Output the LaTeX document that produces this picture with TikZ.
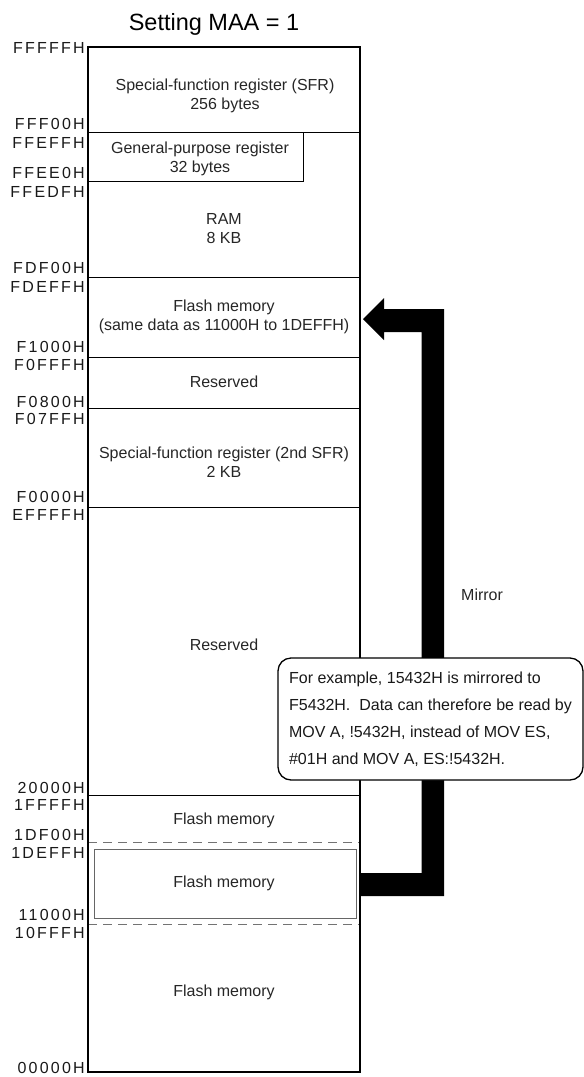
\documentclass[tikz,border=0pt]{standalone}
\usepackage{fontspec}
\setmainfont{Liberation Sans}
\newfontfamily\addrfont[LetterSpace=14]{Liberation Sans}
\tikzset{
  addr/.style={anchor=east, inner sep=0pt, font=\addrfont\fontsize{16}{16}\selectfont, text=black!90},
  regiontext/.style={align=center, inner sep=0pt, font=\fontsize{16}{19}\selectfont, text=black!85},
  outerline/.style={line width=1.4pt},
  divline/.style={line width=0.9pt},
  dashline/.style={line width=0.9pt, draw=black!55, dash pattern=on 9pt off 6pt},
  innerbox/.style={line width=0.9pt, draw=black!60},
  callout/.style={draw, line width=1.3pt, fill=white, rounded corners=13pt,
    minimum width=305pt, minimum height=122pt, inner xsep=0pt,
    align=left, font=\fontsize{16}{27}\selectfont, text=black!90}
}
\begin{document}
\begin{tikzpicture}[x=1pt,y=-1pt]
\useasboundingbox (0,0) rectangle (584,1077);
% title
\node[font=\fontsize{23.5}{23.5}\selectfont] (title) at (214,24) {Setting MAA = 1};
% outer box corners
\coordinate (TL) at (88,47);
\coordinate (BR) at (360,1072);
% dividing lines
\draw[divline] (88,132) -- (360,132);
\draw[divline] (303,132) -- (303,181) -- (88,181);
\draw[divline] (88,277) -- (360,277);
\draw[divline] (88,357) -- (360,357);
\draw[divline] (88,408) -- (360,408);
\draw[divline] (88,507) -- (360,507);
\draw[divline] (88,795) -- (360,795);
\draw[dashline] (88,842) -- (360,842);
\draw[dashline] (88,924) -- (360,924);
\node[innerbox, draw, minimum width=262pt, minimum height=69pt, anchor=north west, inner sep=0pt] (inner) at (94,849) {};
% arrow
\coordinate (src) at (360.5,873);
\coordinate (tip) at (363,319);
\fill[black] (src) -- (421.5,873) -- (421.5,332) -- (384,332) -- (384,340) -- (tip)
  -- (384,298) -- (384,309) -- (444,309) -- (444,896) -- (360.5,896) -- cycle;
% outer box
\draw[outerline] (TL) rectangle (BR);
% region texts
\node[regiontext] (sfr) at (225,96) {Special-function register (SFR)\\256 bytes};
\node[regiontext] (gpr) at (200,159) {General-purpose register\\32 bytes};
\node[regiontext] (ram) at (224,229) {RAM\\8 KB};
\node[regiontext] (mir) at (224,317) {Flash memory\\(same data as 11000H to 1DEFFH)};
\node[regiontext] (res1) at (224,382) {Reserved};
\node[regiontext] (sfr2) at (224,462) {Special-function register (2nd SFR)\\2 KB};
\node[regiontext] (res2) at (224,645) {Reserved};
\node[regiontext] (fl1) at (224,820) {Flash memory};
\node[regiontext] (fl2) at (224,883) {Flash memory};
\node[regiontext] (fl3) at (224,992) {Flash memory};
% mirror label
\node[regiontext, anchor=west] (mirror) at (461,595) {Mirror};
% callout
\node[callout] (note) at (430.5,719) {For example, 15432H is mirrored to\\F5432H.\ \ Data can therefore be read by\\MOV A, !5432H, instead of MOV ES,\\\#01H and MOV A, ES:!5432H.};
% address labels
\node[addr] (a1) at (85,48) {FFFFFH};
\node[addr] (a2) at (85,124) {FFF00H};
\node[addr] (a3) at (85,143) {FFEFFH};
\node[addr] (a4) at (85,173) {FFEE0H};
\node[addr] (a5) at (85,192) {FFEDFH};
\node[addr] (a6) at (85,268) {FDF00H};
\node[addr] (a7) at (85,287) {FDEFFH};
\node[addr] (a8) at (85,347) {F1000H};
\node[addr] (a9) at (85,365) {F0FFFH};
\node[addr] (a10) at (85,402) {F0800H};
\node[addr] (a11) at (85,419) {F07FFH};
\node[addr] (a12) at (85,497) {F0000H};
\node[addr] (a13) at (85,515) {EFFFFH};
\node[addr] (a14) at (85,788) {20000H};
\node[addr] (a15) at (85,805) {1FFFFH};
\node[addr] (a16) at (85,835) {1DF00H};
\node[addr] (a17) at (85,853) {1DEFFH};
\node[addr] (a18) at (85,915) {11000H};
\node[addr] (a19) at (85,933) {10FFFH};
\node[addr] (a20) at (85,1068) {00000H};
\end{tikzpicture}
\end{document}
